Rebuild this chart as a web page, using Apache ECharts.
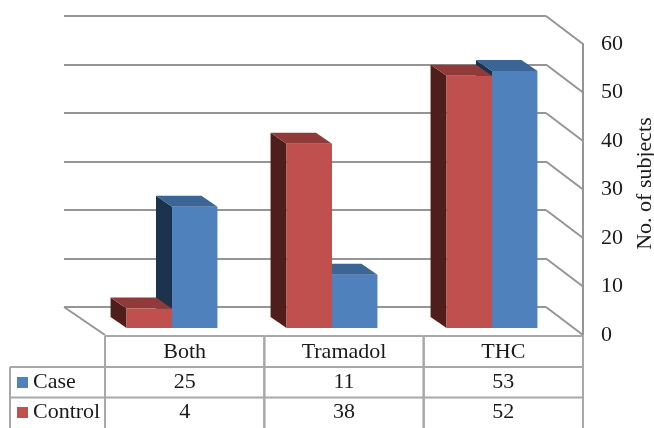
<!DOCTYPE html>
<html>
<head>
<meta charset="utf-8">
<script src="https://cdn.jsdelivr.net/npm/echarts@6/dist/echarts.min.js"></script>
<style>
  html, body { margin: 0; padding: 0; background: #ffffff; }
  #chart { width: 654px; height: 428px; }
</style>
</head>
<body>
<div id="chart"></div>
<script>
// Subjects per substance group
const categories = ['Both', 'Tramadol', 'THC'];
const caseValues = [25, 11, 53];
const controlValues = [4, 38, 52];
const seriesNames = ['Case', 'Control'];
const axisTitle = 'No. of subjects';
const yMax = 60;
const yStep = 10;

const FONT = '"Liberation Serif", "Times New Roman", serif';
const TEXT = '#1a1a1a';
const GRID_LINE = '#959595';
const TABLE_LINE = '#a8a8a8';
const PALETTE = {
  Case:    { front: '#4f81bd', top: '#3a6594', side: '#1c334e' },
  Control: { front: '#c0504d', top: '#903a39', side: '#4d1e1c' }
};
const BAR_DEPTH = [-16, -11];   // projected depth of each bar (towards the back wall)
const WALL_RIGHT = [37, 28];    // right wall: back wall edge -> front axis
const FLOOR_LEFT = [41, 28];    // floor: back-left corner -> front-left corner

const chart = echarts.init(document.getElementById('chart'), null, { renderer: 'canvas' });

const tickValues = [];
for (let v = 0; v <= yMax; v += yStep) tickValues.push(v);

// A box-shaped bar: left side, top and front face
function boxBar(side, colors) {
  return function (params, api) {
    const i = api.value(0);
    const v = api.value(1);
    const base = api.coord([i, 0]);
    const top = api.coord([i, v]);
    const band = api.size([1, 0])[0];
    const w = band * 0.284;
    const x0 = side < 0 ? base[0] - w : base[0];
    const yb = base[1];
    const yt = top[1];
    const dx = BAR_DEPTH[0], dy = BAR_DEPTH[1];
    return {
      type: 'group',
      children: [
        { type: 'polygon', shape: { points: [[x0, yb], [x0, yt], [x0 + dx, yt + dy], [x0 + dx, yb + dy]] },
          style: { fill: colors.side } },
        { type: 'polygon', shape: { points: [[x0, yt], [x0 + w, yt], [x0 + w + dx, yt + dy], [x0 + dx, yt + dy]] },
          style: { fill: colors.top } },
        { type: 'rect', shape: { x: x0, y: yt, width: w, height: yb - yt },
          style: { fill: colors.front } }
      ]
    };
  };
}

// Right wall diagonals and the left edge of the floor
function wallRender(params, api) {
  const v = api.value(1);
  const p = api.coord([1, v]);
  const children = [{
    type: 'line',
    shape: { x1: p[0], y1: p[1], x2: p[0] + WALL_RIGHT[0], y2: p[1] + WALL_RIGHT[1] },
    style: { stroke: GRID_LINE, lineWidth: 2 }
  }];
  if (v === 0) {
    const q = api.coord([0, 0]);
    children.push({
      type: 'line',
      shape: { x1: q[0], y1: q[1], x2: q[0] + FLOOR_LEFT[0], y2: q[1] + FLOOR_LEFT[1] },
      style: { stroke: GRID_LINE, lineWidth: 2 }
    });
  }
  return { type: 'group', children: children };
}

// Data table columns, one per category
function tableRender(params, api) {
  const i = api.value(0);
  const c = api.coord([i, 0]);
  const band = api.size([1, 0])[0];
  const L = c[0] - band / 2;
  const R = c[0] + band / 2;
  const y0 = c[1] + 1, y1 = c[1] + 32, y2 = c[1] + 62.5, y3 = c[1] + 100;
  const line = (x1, yA, x2, yB) => ({
    type: 'line', shape: { x1: x1, y1: yA, x2: x2, y2: yB },
    style: { stroke: TABLE_LINE, lineWidth: 2 }
  });
  const text = (s, y) => ({
    type: 'text',
    style: { text: String(s), x: c[0], y: y, align: 'center', verticalAlign: 'middle',
             font: '22px ' + FONT, fill: TEXT }
  });
  return {
    type: 'group',
    children: [
      line(L, y0, R, y0), line(L, y1, R, y1), line(L, y2, R, y2),
      line(L, y0, L, y3), line(R, y0, R, y3),
      text(categories[i], (y0 + y1) / 2 + 1),
      text(api.value(1), (y1 + y2) / 2),
      text(api.value(2), y2 + 15)
    ]
  };
}

const option = {
  animation: false,
  backgroundColor: '#ffffff',
  grid: [
    { left: 92, top: 37, width: 480, height: 291, outerBoundsMode: 'none' },   // bars
    { left: 64, top: 16, width: 482, height: 291, outerBoundsMode: 'none' },   // back wall
    { left: 105, top: 44, width: 478, height: 291, outerBoundsMode: 'none' }   // front axis + table
  ],
  xAxis: [
    { gridIndex: 0, type: 'category', data: categories, show: false },
    { gridIndex: 1, type: 'value', min: 0, max: 1, show: false },
    { gridIndex: 2, type: 'category', data: categories, show: false }
  ],
  yAxis: [
    { gridIndex: 0, type: 'value', min: 0, max: yMax, interval: yStep, show: false },
    { gridIndex: 1, type: 'value', min: 0, max: yMax, interval: yStep,
      axisLine: { show: false }, axisTick: { show: false }, axisLabel: { show: false },
      splitLine: { show: true, lineStyle: { color: GRID_LINE, width: 2 } } },
    { gridIndex: 2, type: 'value', min: 0, max: yMax, interval: yStep, position: 'right',
      axisLine: { show: true, lineStyle: { color: GRID_LINE, width: 2 } },
      axisTick: { show: false },
      splitLine: { show: false },
      axisLabel: { margin: 18, fontFamily: FONT, fontSize: 22, color: TEXT },
      name: axisTitle, nameLocation: 'middle', nameRotate: 90, nameGap: 44,
      nameTextStyle: { fontFamily: FONT, fontSize: 22, color: TEXT, padding: [0, 0, 0, 12] } }
  ],
  series: [
    { type: 'custom', name: 'wall', xAxisIndex: 1, yAxisIndex: 1, clip: false, silent: true,
      renderItem: wallRender, data: tickValues.map(v => [1, v]), z: 1 },
    { type: 'custom', name: seriesNames[0], xAxisIndex: 0, yAxisIndex: 0, clip: false,
      renderItem: boxBar(1, PALETTE.Case),
      data: caseValues.map((v, i) => [i, v]), z: 2 },
    { type: 'custom', name: seriesNames[1], xAxisIndex: 0, yAxisIndex: 0, clip: false,
      renderItem: boxBar(-1, PALETTE.Control),
      data: controlValues.map((v, i) => [i, v]), z: 3 },
    { type: 'custom', name: 'table', xAxisIndex: 2, yAxisIndex: 2, clip: false, silent: true,
      renderItem: tableRender,
      data: categories.map((c, i) => [i, caseValues[i], controlValues[i]]), z: 4 }
  ],
  graphic: [
    // row-label column of the data table
    { type: 'line', shape: { x1: 10, y1: 367, x2: 105, y2: 367 }, style: { stroke: TABLE_LINE, lineWidth: 2 } },
    { type: 'line', shape: { x1: 10, y1: 397.5, x2: 105, y2: 397.5 }, style: { stroke: TABLE_LINE, lineWidth: 2 } },
    { type: 'line', shape: { x1: 10, y1: 367, x2: 10, y2: 440 }, style: { stroke: TABLE_LINE, lineWidth: 2 } },
    { type: 'rect', shape: { x: 17, y: 377, width: 11, height: 11 }, style: { fill: PALETTE.Case.front } },
    { type: 'text', style: { text: seriesNames[0], x: 33, y: 382, verticalAlign: 'middle',
      font: '22px ' + FONT, fill: TEXT } },
    { type: 'rect', shape: { x: 17, y: 407, width: 11, height: 11 }, style: { fill: PALETTE.Control.front } },
    { type: 'text', style: { text: seriesNames[1], x: 33, y: 412.5, verticalAlign: 'middle',
      font: '22px ' + FONT, fill: TEXT } }
  ]
};

chart.setOption(option);
</script>
</body>
</html>
